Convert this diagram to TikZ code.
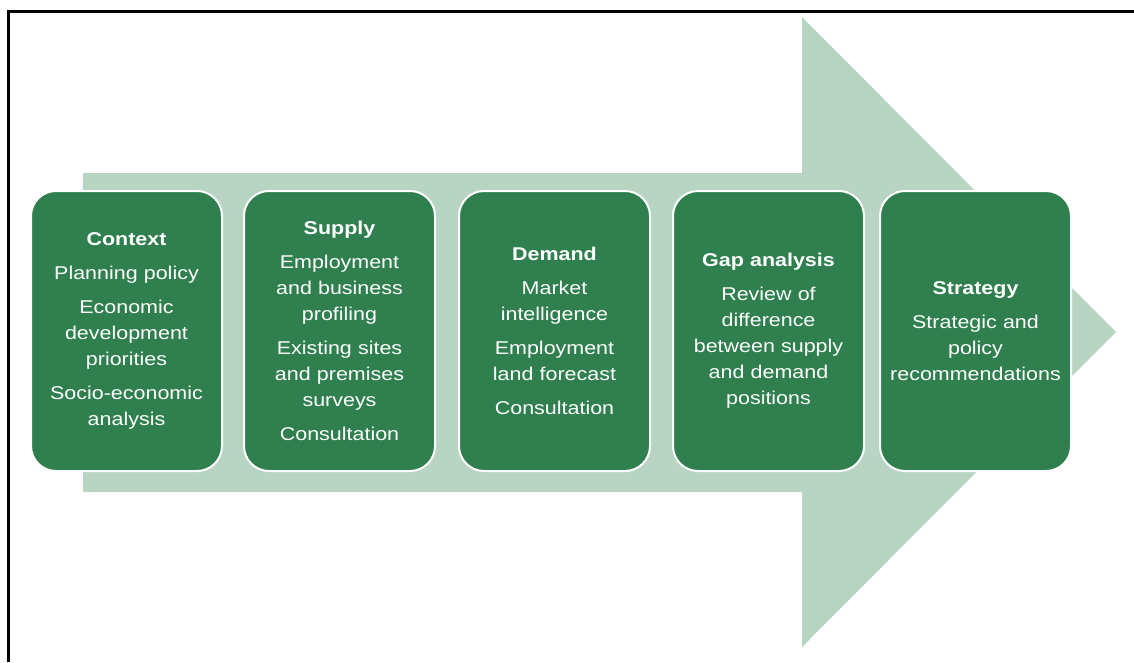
\documentclass[tikz,border=0pt]{standalone}
\usepackage{fontspec}
\setmainfont{Liberation Sans}[FakeStretch=1.16]
\definecolor{stagegreen}{RGB}{47,128,78}
\definecolor{flowgreen}{RGB}{184,213,196}
\begin{document}
\begin{tikzpicture}[x=1pt,y=-1pt,
  stage/.style={rectangle, rounded corners=25pt, fill=stagegreen, draw=white,
    line width=2pt, minimum width=191pt, minimum height=280pt, text width=186pt,
    align=center, text=white, inner sep=0pt, anchor=north west,
    font=\fontsize{18.5}{26}\selectfont},
  title/.style={font=\bfseries}
]
\useasboundingbox (0,0) rectangle (1134,662);
% frame edges
\draw[line width=3pt] (8,662) -- (8,11) -- (1134,11);
% broad arrow behind the stages
\fill[flowgreen] (83,173) -- (802,173) -- (802,17) -- (1116,332)
  -- (802,647) -- (802,492) -- (83,492) -- cycle;
% stages
\node[stage] (context) at (30,190) {\textbf{Context}\\[8pt]
  Planning policy\\[8pt]
  Economic\\ development\\ priorities\\[8pt]
  Socio-economic\\ analysis};
\node[stage] (supply) at (243,190) {\textbf{Supply}\\[8pt]
  Employment\\ and business\\ profiling\\[8pt]
  Existing sites\\ and premises\\ surveys\\[8pt]
  Consultation};
\node[stage] (demand) at (458,190) {\textbf{Demand}\\[8pt]
  Market\\ intelligence\\[8pt]
  Employment\\ land forecast\\[8pt]
  Consultation};
\node[stage] (gap) at (672,190) {\textbf{Gap analysis}\\[8pt]
  Review of\\ difference\\ between supply\\ and demand\\ positions};
\node[stage] (strategy) at (879,190) {\textbf{Strategy}\\[8pt]
  Strategic and\\ policy\\ recommendations};
\end{tikzpicture}
\end{document}
